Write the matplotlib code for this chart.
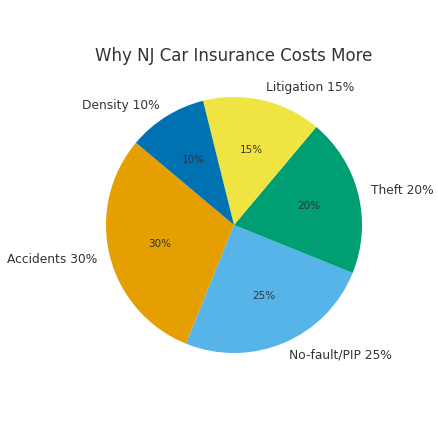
import matplotlib
matplotlib.use("Agg")
import matplotlib.pyplot as plt

categories = ["Accidents", "No-fault/PIP", "Theft", "Litigation", "Density"]
values = [30, 25, 20, 15, 10]
colors = ["#E69F00", "#56B4E9", "#009E73", "#F0E442", "#0072B2"]
labels = [f"{c} {v}%" for c, v in zip(categories, values)]

fig = plt.figure(figsize=(4.39, 4.30), dpi=100)
ax = fig.add_axes([74/439, 45/430, 320/439, 320/430])
wedges, texts, autotexts = ax.pie(values, labels=labels, colors=colors, startangle=140,
                                  autopct="%1.0f%%", pctdistance=0.6, labeldistance=1.1,
                                  textprops={"color": "#333333", "fontsize": 8.8})
for t in autotexts:
    t.set_fontsize(7.5)
ax.set_title("Why NJ Car Insurance Costs More", fontsize=12, color="#333333", pad=2)
fig.savefig("out.png", dpi=100)
